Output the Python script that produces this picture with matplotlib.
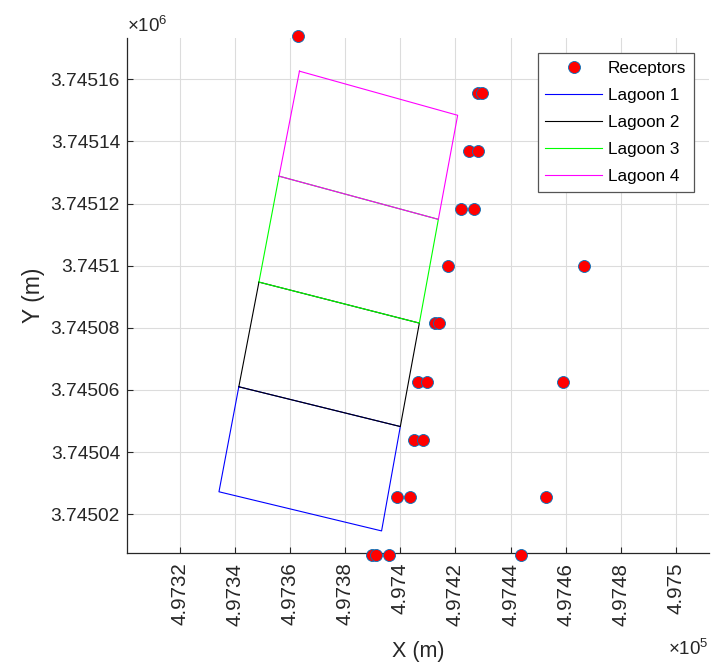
import numpy as np
import matplotlib.pyplot as plt
from matplotlib.ticker import FuncFormatter

plt.rcParams['font.family'] = ['Liberation Sans', 'DejaVu Sans']
plt.rcParams['mathtext.fontset'] = 'custom'
plt.rcParams['mathtext.rm'] = 'Liberation Sans'

# Receptor locations (UTM, m)
rec_x = [497362.8, 497428.1, 497429.5, 497425.0, 497428.1, 497421.9, 497426.6,
         497417.2, 497466.6, 497412.7, 497414.0, 497406.5, 497409.8, 497458.9,
         497404.9, 497408.1, 497398.9, 497403.5, 497452.8, 497389.6, 497391.0,
         497395.8, 497443.7]
rec_y = [3745174.0, 3745155.6, 3745155.6, 3745136.9, 3745136.9, 3745118.2, 3745118.2,
         3745099.8, 3745099.8, 3745081.4, 3745081.4, 3745062.5, 3745062.5, 3745062.5,
         3745044.0, 3745044.0, 3745025.6, 3745025.6, 3745025.6, 3745007.0, 3745007.0,
         3745007.0, 3745007.0]

# Lagoon outlines (closed polygons)
lag1_x = [497341.4, 497400.0, 497393.2, 497334.2, 497341.4]
lag1_y = [3745061.0, 3745048.2, 3745014.6, 3745027.2, 3745061.0]
lag2_x = [497348.7, 497406.9, 497400.0, 497341.4, 497348.7]
lag2_y = [3745094.7, 3745081.5, 3745048.2, 3745061.0, 3745094.7]
lag3_x = [497356.0, 497413.8, 497406.9, 497348.7, 497356.0]
lag3_y = [3745128.8, 3745114.9, 3745081.5, 3745094.7, 3745128.8]
lag4_x = [497363.4, 497420.8, 497413.8, 497356.0, 497363.4]
lag4_y = [3745162.6, 3745148.4, 3745114.9, 3745128.8, 3745162.6]

x_ticks = np.arange(497320, 497501, 20)
y_ticks = np.arange(3745020, 3745161, 20)

fig = plt.figure(figsize=(7.13, 6.62), dpi=100)
ax = fig.add_axes([0.178, 0.1647, 0.8164, 0.778])

ax.plot(rec_x, rec_y, 'o', color='red', markersize=8.6,
        markeredgecolor=(0, 0.447, 0.741), markeredgewidth=0.6,
        clip_on=False, zorder=5, label='Receptors')
ax.plot(lag1_x, lag1_y, color='blue', lw=0.8, label='Lagoon 1')
ax.plot(lag2_x, lag2_y, color='black', lw=0.8, label='Lagoon 2')
ax.plot(lag3_x, lag3_y, color=(0, 1, 0), lw=0.8, label='Lagoon 3')
ax.plot(lag4_x, lag4_y, color=(1, 0, 1), lw=0.8, label='Lagoon 4')

ax.set_xlim(497300.8, 497512)
ax.set_ylim(3745007.5, 3745173.3)
ax.set_xticks(x_ticks)
ax.set_yticks(y_ticks)
ax.xaxis.set_major_formatter(FuncFormatter(lambda v, p: f"{v / 1e5:.6g}"))
ax.yaxis.set_major_formatter(FuncFormatter(lambda v, p: f"{v / 1e6:.6g}"))
ax.tick_params(direction='in', length=4, width=0.8, colors='#262626',
               labelcolor='#262626')
ax.tick_params(axis='x', labelrotation=90, labelsize=14.8, pad=7)
ax.tick_params(axis='y', labelsize=13.8, pad=5)

ax.grid(True, color='#dcdcdc', lw=0.8)
ax.set_axisbelow(True)
for s in ['top', 'right']:
    ax.spines[s].set_visible(False)
for s in ['left', 'bottom']:
    ax.spines[s].set_color('#262626')
    ax.spines[s].set_linewidth(0.9)

ax.set_xlabel('X (m)', fontsize=15.5, color='#262626', labelpad=11)
ax.set_ylabel('Y (m)', fontsize=16.5, color='#262626', labelpad=4)

ax.text(0.0, 1.004, r'$\times10^{6}$', transform=ax.transAxes, fontsize=13.5,
        color='#262626', ha='left', va='bottom')
ax.text(1.0, -0.166, r'$\times10^{5}$', transform=ax.transAxes, fontsize=13.5,
        color='#262626', ha='right', va='top')

leg = ax.legend(loc='upper right', bbox_to_anchor=(0.974, 0.970), fontsize=12.3,
                fancybox=False, framealpha=1, edgecolor='#555555',
                handlelength=3.3, handletextpad=0.35, labelspacing=0.7,
                borderpad=0.45, borderaxespad=0)
leg.get_frame().set_linewidth(0.9)

fig.savefig('out.png', dpi=100)
